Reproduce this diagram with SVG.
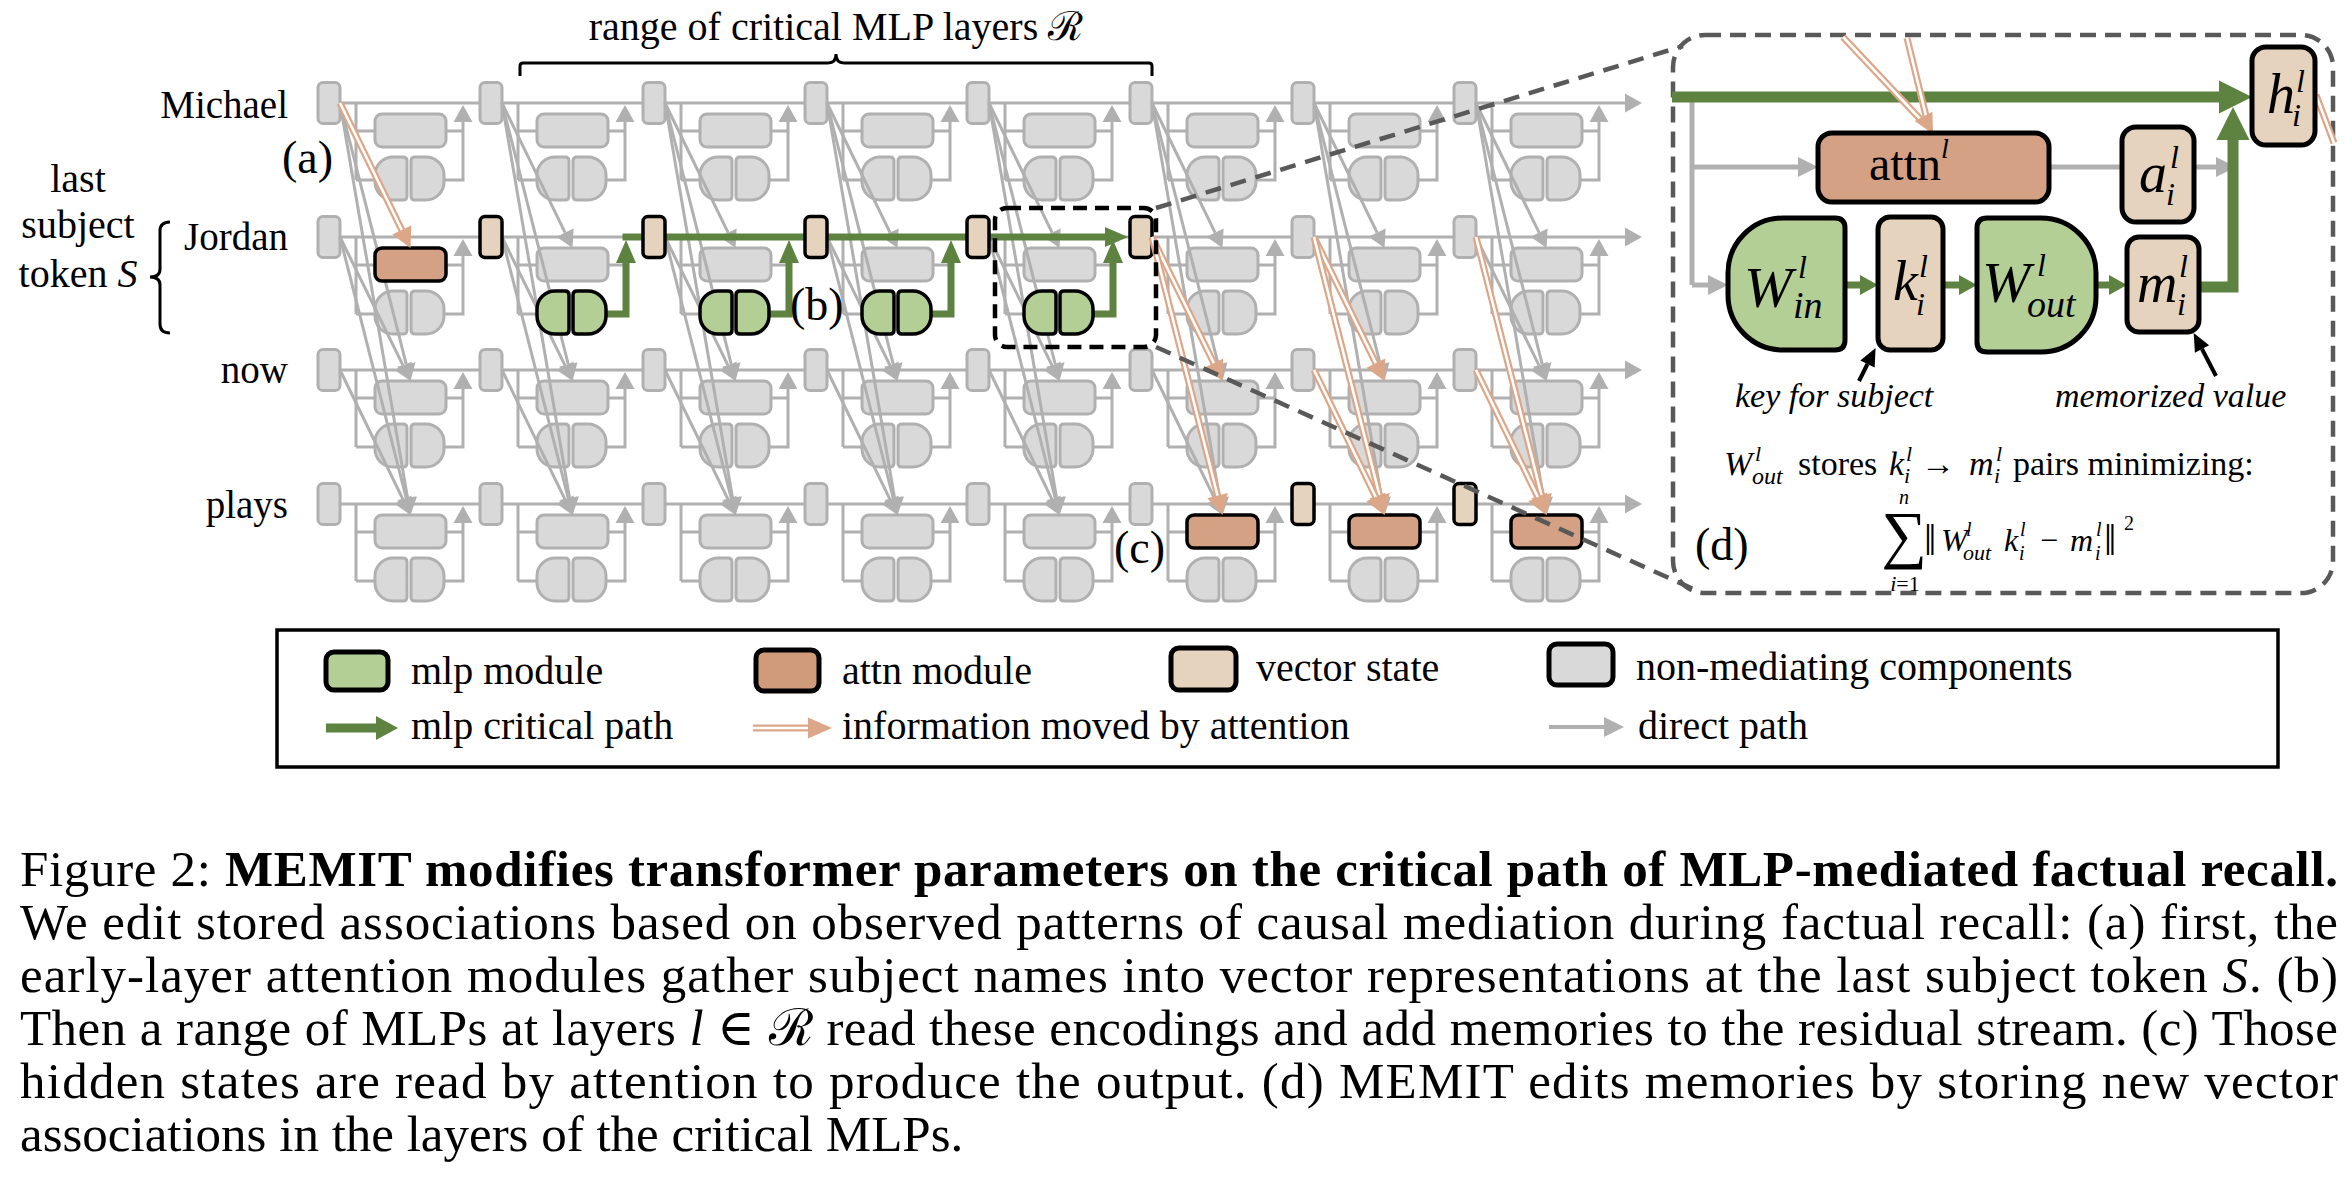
<svg xmlns="http://www.w3.org/2000/svg" width="2352" height="1204" viewBox="0 0 2352 1204">
<style>
.w{fill:none;stroke:#b0b0b0;stroke-width:3}
.g{fill:#d9d9d9;stroke:#b0b0b0;stroke-width:3}
.o{fill:#d5a184;stroke:#000;stroke-width:3.5}
.gr{fill:#b3cf96;stroke:#000;stroke-width:3.5}
.bg{fill:#e6d3bd;stroke:#000;stroke-width:3.5}
.gl{fill:none;stroke:#b0b0b0;stroke-width:3;marker-end:url(#ag)}
.ol{fill:none;stroke:#dca688;stroke-width:7}
.oli{fill:none;stroke:#fff;stroke-width:2.6}
.om{fill:none;stroke:none;marker-end:url(#ao)}
.gp{fill:none;stroke:#5e823f;stroke-width:7}
.t{font-family:"Liberation Serif","Times New Roman","DejaVu Serif",serif;fill:#000}
.mi{font-style:italic}
.pn{stroke-width:5}
</style>
<defs>
<marker id="ag" markerUnits="userSpaceOnUse" orient="auto" overflow="visible" markerWidth="1" markerHeight="1"><path d="M0,-9.5L17,0L0,9.5Z" fill="#b0b0b0"/></marker>
<marker id="ao" markerUnits="userSpaceOnUse" orient="auto" overflow="visible" markerWidth="1" markerHeight="1"><path d="M-3,-10.5L17,0L-3,10.5Z" fill="#dca688"/></marker>
<marker id="agj" markerUnits="userSpaceOnUse" orient="auto" overflow="visible" markerWidth="1" markerHeight="1"><path d="M0,-10L23,0L0,10Z" fill="#5e823f"/></marker>
<marker id="agP" markerUnits="userSpaceOnUse" orient="auto" overflow="visible" markerWidth="1" markerHeight="1"><path d="M0,-16.5L33,0L0,16.5Z" fill="#5e823f"/></marker>
<marker id="agS" markerUnits="userSpaceOnUse" orient="auto" overflow="visible" markerWidth="1" markerHeight="1"><path d="M0,-10L18,0L0,10Z" fill="#5e823f"/></marker>
<marker id="agL" markerUnits="userSpaceOnUse" orient="auto" overflow="visible" markerWidth="1" markerHeight="1"><path d="M0,-12L22,0L0,12Z" fill="#5e823f"/></marker>
<marker id="agp" markerUnits="userSpaceOnUse" orient="auto" overflow="visible" markerWidth="1" markerHeight="1"><path d="M0,-10L20,0L0,10Z" fill="#b0b0b0"/></marker>
<marker id="aoL" markerUnits="userSpaceOnUse" orient="auto" overflow="visible" markerWidth="1" markerHeight="1"><path d="M0,-10.5L24,0L0,10.5Z" fill="#dca688"/></marker>
<marker id="ab" markerUnits="userSpaceOnUse" orient="auto" overflow="visible" markerWidth="1" markerHeight="1"><path d="M0,-8L18,0L0,8Z" fill="#000"/></marker>
<rect id="vb" x="0" y="-20.5" width="22" height="41" rx="5"/>
<rect id="at" x="57" y="11" width="71" height="33" rx="7"/>
<path id="ml" d="M89,58Q89,54 85,54L75,54A18,18 0 0 0 57,72L57,79A18,18 0 0 0 75,97L85,97Q89,97 89,93Z M93,58Q93,54 97,54L108,54A18,18 0 0 1 126,72L126,79A18,18 0 0 1 108,97L97,97Q93,97 93,93Z"/>
<g id="wr"><path class="w" d="M38,0V77M38,28H57M38,77H57M128,28H145M126,77H145V19" marker-end="url(#ag)"/></g>
<g id="wrG"><path class="w" d="M38,0V77M38,28H57M38,77H57M128,28H146"/><path class="gp" d="M126,77H146V26" marker-end="url(#agj)"/></g>
<line id="dMJ" x1="22" y1="103" x2="85.1" y2="232.7"/>
<line id="dMN" x1="22" y1="103" x2="88.3" y2="364.5"/>
<line id="dMP" x1="22" y1="103" x2="89.6" y2="498.2"/>
<line id="dJN" x1="22" y1="237" x2="85.1" y2="365.7"/>
<line id="dJP" x1="22" y1="237" x2="88.3" y2="498.5"/>
<line id="dNP" x1="22" y1="370" x2="85.1" y2="499.7"/>
</defs>

<rect x="0" y="0" width="2352" height="1204" fill="#fff"/>

<!-- residual streams and per-layer wiring -->
<g id="connectors-base">
<line class="w" x1="340" y1="103" x2="1625" y2="103" marker-end="url(#ag)"/>
<line class="w" x1="340" y1="237" x2="1625" y2="237" marker-end="url(#ag)"/>
<line class="w" x1="340" y1="370" x2="1625" y2="370" marker-end="url(#ag)"/>
<line class="w" x1="340" y1="504" x2="1625" y2="504" marker-end="url(#ag)"/>
<use href="#wr" x="318" y="103"/><use href="#wr" x="480" y="103"/><use href="#wr" x="643" y="103"/><use href="#wr" x="805" y="103"/><use href="#wr" x="967" y="103"/><use href="#wr" x="1130" y="103"/><use href="#wr" x="1292" y="103"/><use href="#wr" x="1454" y="103"/>
<use href="#wr" x="318" y="237"/><use href="#wrG" x="480" y="237"/><use href="#wrG" x="643" y="237"/><use href="#wrG" x="805" y="237"/><use href="#wrG" x="967" y="237"/><use href="#wr" x="1130" y="237"/><use href="#wr" x="1292" y="237"/><use href="#wr" x="1454" y="237"/>
<use href="#wr" x="318" y="370"/><use href="#wr" x="480" y="370"/><use href="#wr" x="643" y="370"/><use href="#wr" x="805" y="370"/><use href="#wr" x="967" y="370"/><use href="#wr" x="1130" y="370"/><use href="#wr" x="1292" y="370"/><use href="#wr" x="1454" y="370"/>
<use href="#wr" x="318" y="504"/><use href="#wr" x="480" y="504"/><use href="#wr" x="643" y="504"/><use href="#wr" x="805" y="504"/><use href="#wr" x="967" y="504"/><use href="#wr" x="1130" y="504"/><use href="#wr" x="1292" y="504"/><use href="#wr" x="1454" y="504"/>
</g>

<!-- non-mediating components -->
<g id="grey-nodes">
<g id="n-M1"><use href="#vb" class="g" x="318" y="103"/><use href="#at" class="g" x="318" y="103"/><use href="#ml" class="g" x="318" y="103"/></g>
<g id="n-M2"><use href="#vb" class="g" x="480" y="103"/><use href="#at" class="g" x="480" y="103"/><use href="#ml" class="g" x="480" y="103"/></g>
<g id="n-M3"><use href="#vb" class="g" x="643" y="103"/><use href="#at" class="g" x="643" y="103"/><use href="#ml" class="g" x="643" y="103"/></g>
<g id="n-M4"><use href="#vb" class="g" x="805" y="103"/><use href="#at" class="g" x="805" y="103"/><use href="#ml" class="g" x="805" y="103"/></g>
<g id="n-M5"><use href="#vb" class="g" x="967" y="103"/><use href="#at" class="g" x="967" y="103"/><use href="#ml" class="g" x="967" y="103"/></g>
<g id="n-M6"><use href="#vb" class="g" x="1130" y="103"/><use href="#at" class="g" x="1130" y="103"/><use href="#ml" class="g" x="1130" y="103"/></g>
<g id="n-M7"><use href="#vb" class="g" x="1292" y="103"/><use href="#at" class="g" x="1292" y="103"/><use href="#ml" class="g" x="1292" y="103"/></g>
<g id="n-M8"><use href="#vb" class="g" x="1454" y="103"/><use href="#at" class="g" x="1454" y="103"/><use href="#ml" class="g" x="1454" y="103"/></g>

<g id="n-J1"><use href="#vb" class="g" x="318" y="237"/><use href="#ml" class="g" x="318" y="237"/></g>
<g id="n-J2"><use href="#at" class="g" x="480" y="237"/></g>
<g id="n-J3"><use href="#at" class="g" x="643" y="237"/></g>
<g id="n-J4"><use href="#at" class="g" x="805" y="237"/></g>
<g id="n-J5"><use href="#at" class="g" x="967" y="237"/></g>
<g id="n-J6"><use href="#at" class="g" x="1130" y="237"/><use href="#ml" class="g" x="1130" y="237"/></g>
<g id="n-J7"><use href="#vb" class="g" x="1292" y="237"/><use href="#at" class="g" x="1292" y="237"/><use href="#ml" class="g" x="1292" y="237"/></g>
<g id="n-J8"><use href="#vb" class="g" x="1454" y="237"/><use href="#at" class="g" x="1454" y="237"/><use href="#ml" class="g" x="1454" y="237"/></g>

<g id="n-N1"><use href="#vb" class="g" x="318" y="370"/><use href="#at" class="g" x="318" y="370"/><use href="#ml" class="g" x="318" y="370"/></g>
<g id="n-N2"><use href="#vb" class="g" x="480" y="370"/><use href="#at" class="g" x="480" y="370"/><use href="#ml" class="g" x="480" y="370"/></g>
<g id="n-N3"><use href="#vb" class="g" x="643" y="370"/><use href="#at" class="g" x="643" y="370"/><use href="#ml" class="g" x="643" y="370"/></g>
<g id="n-N4"><use href="#vb" class="g" x="805" y="370"/><use href="#at" class="g" x="805" y="370"/><use href="#ml" class="g" x="805" y="370"/></g>
<g id="n-N5"><use href="#vb" class="g" x="967" y="370"/><use href="#at" class="g" x="967" y="370"/><use href="#ml" class="g" x="967" y="370"/></g>
<g id="n-N6"><use href="#vb" class="g" x="1130" y="370"/><use href="#at" class="g" x="1130" y="370"/><use href="#ml" class="g" x="1130" y="370"/></g>
<g id="n-N7"><use href="#vb" class="g" x="1292" y="370"/><use href="#at" class="g" x="1292" y="370"/><use href="#ml" class="g" x="1292" y="370"/></g>
<g id="n-N8"><use href="#vb" class="g" x="1454" y="370"/><use href="#at" class="g" x="1454" y="370"/><use href="#ml" class="g" x="1454" y="370"/></g>

<g id="n-P1"><use href="#vb" class="g" x="318" y="504"/><use href="#at" class="g" x="318" y="504"/><use href="#ml" class="g" x="318" y="504"/></g>
<g id="n-P2"><use href="#vb" class="g" x="480" y="504"/><use href="#at" class="g" x="480" y="504"/><use href="#ml" class="g" x="480" y="504"/></g>
<g id="n-P3"><use href="#vb" class="g" x="643" y="504"/><use href="#at" class="g" x="643" y="504"/><use href="#ml" class="g" x="643" y="504"/></g>
<g id="n-P4"><use href="#vb" class="g" x="805" y="504"/><use href="#at" class="g" x="805" y="504"/><use href="#ml" class="g" x="805" y="504"/></g>
<g id="n-P5"><use href="#vb" class="g" x="967" y="504"/><use href="#at" class="g" x="967" y="504"/><use href="#ml" class="g" x="967" y="504"/></g>
<g id="n-P6"><use href="#vb" class="g" x="1130" y="504"/><use href="#ml" class="g" x="1130" y="504"/></g>
<g id="n-P7"><use href="#ml" class="g" x="1292" y="504"/></g>
<g id="n-P8"><use href="#ml" class="g" x="1454" y="504"/></g>
</g>

<!-- direct paths between token positions -->
<g id="connectors">
<use href="#dMN" class="gl" x="318"/><use href="#dMP" class="gl" x="318"/><use href="#dJN" class="gl" x="318"/><use href="#dJP" class="gl" x="318"/><use href="#dNP" class="gl" x="318"/>
<use href="#dMJ" class="gl" x="480"/><use href="#dMN" class="gl" x="480"/><use href="#dMP" class="gl" x="480"/><use href="#dJN" class="gl" x="480"/><use href="#dJP" class="gl" x="480"/><use href="#dNP" class="gl" x="480"/>
<use href="#dMJ" class="gl" x="643"/><use href="#dMN" class="gl" x="643"/><use href="#dMP" class="gl" x="643"/><use href="#dJN" class="gl" x="643"/><use href="#dJP" class="gl" x="643"/><use href="#dNP" class="gl" x="643"/>
<use href="#dMJ" class="gl" x="805"/><use href="#dMN" class="gl" x="805"/><use href="#dMP" class="gl" x="805"/><use href="#dJN" class="gl" x="805"/><use href="#dJP" class="gl" x="805"/><use href="#dNP" class="gl" x="805"/>
<use href="#dMJ" class="gl" x="967"/><use href="#dMN" class="gl" x="967"/><use href="#dMP" class="gl" x="967"/><use href="#dJN" class="gl" x="967"/><use href="#dJP" class="gl" x="967"/><use href="#dNP" class="gl" x="967"/>
<use href="#dMJ" class="gl" x="1130"/><use href="#dMN" class="gl" x="1130"/><use href="#dMP" class="gl" x="1130"/><use href="#dNP" class="gl" x="1130"/>
<use href="#dMJ" class="gl" x="1292"/><use href="#dMN" class="gl" x="1292"/><use href="#dMP" class="gl" x="1292"/>
<use href="#dMJ" class="gl" x="1454"/><use href="#dMN" class="gl" x="1454"/><use href="#dMP" class="gl" x="1454"/><use href="#dJN" class="gl" x="1454"/>
</g>

<!-- mlp critical path -->
<g id="critical-path">
<line class="gp" x1="622.5" y1="237" x2="1105" y2="237" marker-end="url(#agj)"/>
</g>

<!-- highlighted nodes -->
<g id="attn-J1"><use href="#at" class="o" x="318" y="237"/></g>
<g id="vec-J2"><use href="#vb" class="bg" x="480" y="237"/></g>
<g id="mlp-J2"><use href="#ml" class="gr" x="480" y="237"/></g>
<g id="vec-J3"><use href="#vb" class="bg" x="643" y="237"/></g>
<g id="mlp-J3"><use href="#ml" class="gr" x="643" y="237"/></g>
<g id="vec-J4"><use href="#vb" class="bg" x="805" y="237"/></g>
<g id="mlp-J4"><use href="#ml" class="gr" x="805" y="237"/></g>
<g id="vec-J5"><use href="#vb" class="bg" x="967" y="237"/></g>
<g id="mlp-J5"><use href="#ml" class="gr" x="967" y="237"/></g>
<g id="vec-J6"><use href="#vb" class="bg" x="1130" y="237"/></g>
<g id="attn-P6"><use href="#at" class="o" x="1130" y="504"/></g>
<g id="vec-P7"><use href="#vb" class="bg" x="1292" y="504"/></g>
<g id="attn-P7"><use href="#at" class="o" x="1292" y="504"/></g>
<g id="vec-P8"><use href="#vb" class="bg" x="1454" y="504"/></g>
<g id="attn-P8"><use href="#at" class="o" x="1454" y="504"/></g>

<!-- information moved by attention -->
<g id="attention-moves">
<use href="#dMJ" class="ol" x="318"/><use href="#dMJ" class="oli" x="318"/><use href="#dMJ" class="om" x="318"/>
<use href="#dJN" class="ol" x="1130"/><use href="#dJN" class="oli" x="1130"/><use href="#dJN" class="om" x="1130"/>
<use href="#dJP" class="ol" x="1130"/><use href="#dJP" class="oli" x="1130"/><use href="#dJP" class="om" x="1130"/>
<use href="#dJN" class="ol" x="1292"/><use href="#dJN" class="oli" x="1292"/><use href="#dJN" class="om" x="1292"/>
<use href="#dJP" class="ol" x="1292"/><use href="#dJP" class="oli" x="1292"/><use href="#dJP" class="om" x="1292"/>
<use href="#dNP" class="ol" x="1292"/><use href="#dNP" class="oli" x="1292"/><use href="#dNP" class="om" x="1292"/>
<use href="#dJP" class="ol" x="1454"/><use href="#dJP" class="oli" x="1454"/><use href="#dJP" class="om" x="1454"/>
<use href="#dNP" class="ol" x="1454"/><use href="#dNP" class="oli" x="1454"/><use href="#dNP" class="om" x="1454"/>
</g>

<!-- labels -->
<g id="labels" class="t">
<text x="836" y="40" font-size="40" text-anchor="middle">range of critical MLP layers ℛ</text>
<path d="M520,76V66Q520,63 523,63H828Q836,63 836,54Q836,63 844,63H1149Q1152,63 1152,66V76" fill="none" stroke="#000" stroke-width="3"/>
<text x="288" y="118" font-size="39" text-anchor="end">Michael</text>
<text x="288" y="250" font-size="39" text-anchor="end">Jordan</text>
<text x="288" y="383" font-size="39" text-anchor="end">now</text>
<text x="288" y="518" font-size="39" text-anchor="end">plays</text>
<text x="78" y="192" font-size="40" text-anchor="middle">last</text>
<text x="78" y="238" font-size="40" text-anchor="middle">subject</text>
<text x="78" y="287" font-size="40" text-anchor="middle">token <tspan class="mi">S</tspan></text>
<path d="M170,222Q160,222 160,231V269Q160,277 150,277Q160,277 160,285V324Q160,333 170,333" fill="none" stroke="#000" stroke-width="3"/>
<text x="282" y="173" font-size="46">(a)</text>
<text x="790" y="320" font-size="46">(b)</text>
<text x="1114" y="563" font-size="46">(c)</text>
</g>

<!-- zoom-in of one layer -->
<g id="zoom-marker">
<rect x="995" y="208" width="161" height="139" rx="12" fill="none" stroke="#000" stroke-width="4.5" stroke-dasharray="14 8"/>
<line x1="1156" y1="208" x2="1683" y2="46" stroke="#595959" stroke-width="4.5" stroke-dasharray="16 10"/>
<line x1="1156" y1="347" x2="1700" y2="592" stroke="#595959" stroke-width="4.5" stroke-dasharray="16 10"/>
</g>

<g id="panel-d">
<rect x="1673" y="35" width="660" height="558" rx="32" fill="none" stroke="#595959" stroke-width="4.5" stroke-dasharray="16 9"/>
<g id="panel-connectors">
<path class="w pn" d="M1692,97V285"/>
<line class="w pn" x1="1692" y1="167" x2="1798" y2="167" marker-end="url(#agp)"/>
<line class="w pn" x1="1692" y1="285" x2="1708" y2="285" marker-end="url(#agp)"/>
<line class="w pn" x1="2049" y1="167" x2="2122" y2="167"/>
<line class="w pn" x1="2194" y1="167" x2="2216" y2="167" marker-end="url(#agp)"/>
<line class="gp" style="stroke-width:11" x1="1672" y1="97" x2="2219" y2="97" marker-end="url(#agP)"/>
<path class="gp" style="stroke-width:11" d="M2199,287H2233V140" marker-end="url(#agP)"/>
<line class="gp" x1="1845" y1="285" x2="1860" y2="285" marker-end="url(#agS)"/>
<line class="gp" x1="1943" y1="285" x2="1959" y2="285" marker-end="url(#agS)"/>
<line class="gp" x1="2096" y1="285" x2="2109" y2="285" marker-end="url(#agS)"/>
<line class="ol" x1="1843" y1="37" x2="1921" y2="120"/><line class="oli" x1="1843" y1="37" x2="1921" y2="120"/>
<line class="ol" x1="1907" y1="38" x2="1926" y2="116"/><line class="oli" x1="1907" y1="38" x2="1926" y2="116"/>
<polygon points="1933,134 1914.8,121.1 1932.4,111.7" fill="#dca688"/>
<line class="ol" x1="2316" y1="95" x2="2334" y2="143"/><line class="oli" x1="2316" y1="95" x2="2334" y2="143"/>
<line x1="1859" y1="381" x2="1867.5" y2="364" stroke="#000" stroke-width="4" marker-end="url(#ab)"/>
<line x1="2216" y1="376" x2="2202" y2="349" stroke="#000" stroke-width="4" marker-end="url(#ab)"/>
</g>
<g id="attn-l"><rect x="1818" y="133" width="231" height="69" rx="14" class="o" style="stroke-width:5"/>
<text class="t" x="1869" y="180" font-size="48">attn<tspan class="mi" font-size="28" y="158">l</tspan></text></g>
<g id="a-il"><rect x="2122" y="127" width="72" height="95" rx="14" class="bg" style="stroke-width:5"/>
<text class="t mi" font-size="56" x="2139" y="192">a</text><text class="t mi" font-size="32" x="2170" y="168">l</text><text class="t mi" font-size="32" x="2166" y="205">i</text></g>
<g id="h-il"><rect x="2252" y="47" width="63" height="98" rx="14" class="bg" style="stroke-width:5"/>
<text class="t mi" font-size="56" x="2267" y="113">h</text><text class="t mi" font-size="32" x="2296" y="92">l</text><text class="t mi" font-size="32" x="2292" y="126">i</text></g>
<g id="W-in"><path d="M1835,218Q1845,218 1845,228V340Q1845,350 1835,350H1783A55,55 0 0 1 1728,295V273A55,55 0 0 1 1783,218Z" class="gr" style="stroke-width:5"/>
<text class="t mi" font-size="58" x="1744" y="307">W</text><text class="t mi" font-size="32" x="1798" y="278">l</text><text class="t mi" font-size="38" x="1793" y="318">in</text></g>
<g id="k-il"><rect x="1878" y="217" width="65" height="133" rx="12" class="bg" style="stroke-width:5"/>
<text class="t mi" font-size="56" x="1893" y="300">k</text><text class="t mi" font-size="32" x="1919" y="277">l</text><text class="t mi" font-size="32" x="1916" y="315">i</text></g>
<g id="W-out"><path d="M1987,218H2041A55,55 0 0 1 2096,273V297A55,55 0 0 1 2041,352H1987Q1977,352 1977,342V228Q1977,218 1987,218Z" class="gr" style="stroke-width:5"/>
<text class="t mi" font-size="58" x="1982" y="302">W</text><text class="t mi" font-size="32" x="2037" y="276">l</text><text class="t mi" font-size="38" x="2027" y="317">out</text></g>
<g id="m-il"><rect x="2127" y="237" width="72" height="95" rx="12" class="bg" style="stroke-width:5"/>
<text class="t mi" font-size="56" x="2137" y="302">m</text><text class="t mi" font-size="32" x="2179" y="277">l</text><text class="t mi" font-size="32" x="2177" y="315">i</text></g>
<g id="panel-text" class="t">
<text class="mi" font-size="34" x="1735" y="407">key for subject</text>
<text class="mi" font-size="34" x="2055" y="407">memorized value</text>
<text font-size="34" y="475"><tspan class="mi" x="1724">W</tspan><tspan class="mi" font-size="22" x="1755" y="461">l</tspan><tspan class="mi" font-size="24" x="1752" y="484">out</tspan><tspan x="1798" y="475">stores</tspan><tspan class="mi" x="1889">k</tspan><tspan class="mi" font-size="22" x="1906" y="461">l</tspan><tspan class="mi" font-size="22" x="1904" y="483">i</tspan><tspan x="1921" y="475">→</tspan><tspan class="mi" x="1969">m</tspan><tspan class="mi" font-size="22" x="1996" y="461">l</tspan><tspan class="mi" font-size="22" x="1994" y="483">i</tspan><tspan x="2013" y="475">pairs minimizing:</tspan></text>
<text class="mi" font-size="20" x="1904" y="504" text-anchor="middle">n</text>
<text font-size="64" x="1904" y="556" text-anchor="middle">∑</text>
<text font-size="22" x="1905" y="591" text-anchor="middle"><tspan class="mi">i</tspan>=1</text>
<text font-size="32" y="551"><tspan x="1924" font-size="44" y="555">‖</tspan><tspan class="mi" x="1941" y="551">W</tspan><tspan class="mi" font-size="20" x="1966" y="536">l</tspan><tspan class="mi" font-size="22" x="1963" y="560">out</tspan><tspan class="mi" x="2004" y="551">k</tspan><tspan class="mi" font-size="20" x="2020" y="536">l</tspan><tspan class="mi" font-size="20" x="2019" y="560">i</tspan><tspan x="2040" y="551">−</tspan><tspan class="mi" x="2070">m</tspan><tspan class="mi" font-size="20" x="2096" y="536">l</tspan><tspan class="mi" font-size="20" x="2095" y="560">i</tspan><tspan x="2104" font-size="44" y="555">‖</tspan><tspan font-size="20" x="2124" y="530">2</tspan></text>
<text font-size="46" x="1695" y="560">(d)</text>
</g>
</g>

<!-- legend -->
<g id="legend" class="t">
<rect x="277" y="630" width="2001" height="137" fill="none" stroke="#000" stroke-width="3.5"/>
<g id="leg-mlp"><rect x="326" y="652" width="62" height="38" rx="8" fill="#b3cf96" stroke="#000" stroke-width="5"/><text x="411" y="684" font-size="40">mlp module</text></g>
<g id="leg-attn"><rect x="756" y="650" width="63" height="41" rx="8" fill="#cf9b7a" stroke="#000" stroke-width="5"/><text x="842" y="684" font-size="40">attn module</text></g>
<g id="leg-vec"><rect x="1171" y="648" width="65" height="42" rx="8" fill="#e6d3bd" stroke="#000" stroke-width="5"/><text x="1256" y="681" font-size="40">vector state</text></g>
<g id="leg-non"><rect x="1549" y="644" width="64" height="41" rx="8" fill="#d9d9d9" stroke="#000" stroke-width="5"/><text x="1636" y="680" font-size="40">non-mediating components</text></g>
<g id="leg-crit"><line x1="326" y1="728" x2="376" y2="728" stroke="#5e823f" stroke-width="9" marker-end="url(#agL)"/><text x="411" y="739" font-size="40">mlp critical path</text></g>
<g id="leg-info"><line class="ol" x1="753" y1="728" x2="808" y2="728" marker-end="url(#aoL)"/><line class="oli" x1="753" y1="728" x2="808" y2="728"/><text x="842" y="739" font-size="40">information moved by attention</text></g>
<g id="leg-direct"><line x1="1549" y1="727" x2="1604" y2="727" stroke="#b0b0b0" stroke-width="4" marker-end="url(#agp)"/><text x="1638" y="739" font-size="40">direct path</text></g>
</g>

<!-- caption -->
<g id="caption" class="t" font-size="51">
<text x="20" y="886" textLength="2318" lengthAdjust="spacing">Figure 2: <tspan font-weight="bold">MEMIT modifies transformer parameters on the critical path of MLP-mediated factual recall.</tspan></text>
<text x="20" y="939" textLength="2318" lengthAdjust="spacing">We edit stored associations based on observed patterns of causal mediation during factual recall: (a) first, the</text>
<text x="20" y="992" textLength="2318" lengthAdjust="spacing">early-layer attention modules gather subject names into vector representations at the last subject token <tspan class="mi">S</tspan>. (b)</text>
<text x="20" y="1045" textLength="2318" lengthAdjust="spacing">Then a range of MLPs at layers <tspan class="mi">l</tspan> ∈ ℛ read these encodings and add memories to the residual stream. (c) Those</text>
<text x="20" y="1098" textLength="2318" lengthAdjust="spacing">hidden states are read by attention to produce the output. (d) MEMIT edits memories by storing new vector</text>
<text x="20" y="1151">associations in the layers of the critical MLPs.</text>
</g>
</svg>
